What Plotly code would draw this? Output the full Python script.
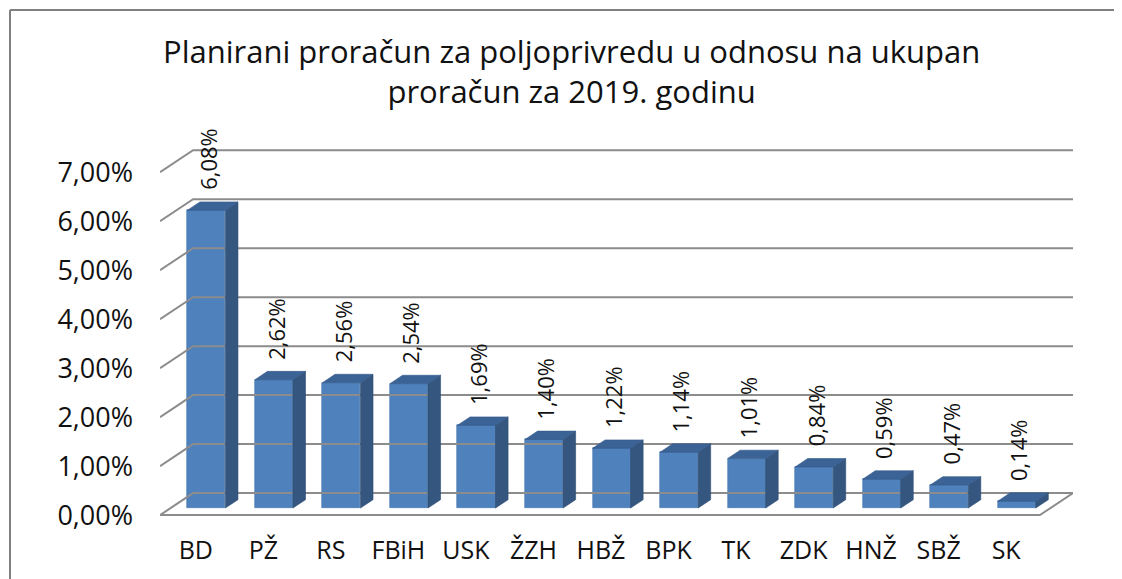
import plotly.graph_objects as go

# ---------------- data ----------------
categories = ["BD", "PŽ", "RS", "FBiH", "USK", "ŽZH", "HBŽ", "BPK", "TK", "ZDK", "HNŽ", "SBŽ", "SK"]
values = [6.08, 2.62, 2.56, 2.54, 1.69, 1.40, 1.22, 1.14, 1.01, 0.84, 0.59, 0.47, 0.14]
y_ticks = [0, 1, 2, 3, 4, 5, 6, 7]
title_text = "Planirani proračun za poljoprivredu u odnosu na ukupan<br>proračun za 2019. godinu"

# ---------------- geometry / style constants ----------------
OFF = 8                       # default page body margin of the html page
W, H = 1122 - OFF, 579 - OFF
ML, MR, MT, MB = 160 - OFF, 49, 138 - OFF, 59
XL, XR = -0.53, 12.5          # front floor edge (category units)
DX, DY = 0.49, 0.45           # full depth offset (x in category units, y in % units)
F0 = 0.32                     # depth position of bar front face
FB = 0.38                     # bar thickness (fraction of depth)
BW = 0.563                    # bar width
GAP = 0.2                     # label gap above bar
Y0, Y1 = -0.1, 7.7

FONT = "Open Sans"
GRID = "#8C8C8C"
C_FRONT = "#4F81BD"
C_SIDE = "#34567F"
C_TOP = "#3C6396"

fig = go.Figure()

# walls / floor lines
gx, gy = [], []
for v in y_ticks:
    gx += [XL, XL + DX, XR + DX, None]
    gy += [v, v + DY, v + DY, None]
gx += [XL, XR, XR + DX, None]
gy += [0, 0, DY, None]
fig.add_trace(go.Scatter(x=gx, y=gy, mode="lines", line=dict(color=GRID, width=2),
                         hoverinfo="skip", showlegend=False, cliponaxis=False))

# bar side and top faces
sx, sy, tx, ty = [], [], [], []
xs = []
for i, v in enumerate(values):
    xc = i + F0 * DX
    xs.append(xc)
    b = F0 * DY
    top = b + v
    xl, xr = xc - BW / 2, xc + BW / 2
    ox, oy = FB * DX, FB * DY
    sx += [xr, xr + ox, xr + ox, xr, xr, None]
    sy += [b, b + oy, top + oy, top, b, None]
    tx += [xl, xr, xr + ox, xl + ox, xl, None]
    ty += [top, top, top + oy, top + oy, top, None]

fig.add_trace(go.Scatter(x=sx, y=sy, mode="lines", fill="toself", fillcolor=C_SIDE,
                         line=dict(color="#2E4D73", width=0.6), hoverinfo="skip",
                         showlegend=False, cliponaxis=False))
fig.add_trace(go.Scatter(x=tx, y=ty, mode="lines", fill="toself", fillcolor=C_TOP,
                         line=dict(color="#34598A", width=0.6), hoverinfo="skip",
                         showlegend=False, cliponaxis=False))

# front faces as real bars
fig.add_trace(go.Bar(x=xs, y=values, base=F0 * DY, width=BW,
                     marker=dict(color=C_FRONT, line=dict(color="#4173AD", width=0.6)),
                     showlegend=False, hoverinfo="skip"))

# data labels
def fmt(v):
    return f"{v:.2f}%".replace(".", ",")

for xc, v in zip(xs, values):
    fig.add_annotation(x=xc + 0.02, y=v + F0 * DY + FB * DY + GAP, text=fmt(v),
                       textangle=-90, showarrow=False, xanchor="center", yanchor="bottom",
                       font=dict(family=FONT, size=22, color="#111111"))

pw = W - ML - MR
ph = H - MT - MB

# chart title
fig.add_annotation(xref="paper", yref="paper", x=(571 - OFF - ML) / pw,
                   y=(H - MB - (28 - OFF)) / ph, xanchor="center", yanchor="top",
                   text=title_text, showarrow=False, align="center",
                   font=dict(family=FONT, size=31, color="#111111"))

# chart frame (top and left edges visible in the reference)
fx0 = (10 - OFF - ML) / pw
fy1 = (H - MB - (10 - OFF)) / ph
fig.add_shape(type="line", xref="paper", yref="paper", x0=fx0, x1=(W + 20 - ML) / pw,
              y0=fy1, y1=fy1, line=dict(color="#808080", width=2), layer="below")
fig.add_shape(type="line", xref="paper", yref="paper", x0=fx0, x1=fx0,
              y0=fy1, y1=(H - MB - (H + 20)) / ph, line=dict(color="#808080", width=2),
              layer="below")

fig.update_layout(
    width=W, height=H,
    margin=dict(l=ML, r=MR, t=MT, b=MB, pad=0),
    paper_bgcolor="white", plot_bgcolor="white",
    bargap=0,
    xaxis=dict(range=[XL, XR + DX], tickvals=list(range(len(categories))), ticktext=categories,
               showgrid=False, zeroline=False, showline=False, ticks="",
               ticklabelstandoff=13, tickfont=dict(family=FONT, size=25, color="#111111"),
               fixedrange=True),
    yaxis=dict(range=[Y0, Y1], tickvals=y_ticks, ticktext=[fmt(v) for v in y_ticks],
               showgrid=False, zeroline=False, showline=False, ticks="",
               ticklabelstandoff=26, tickfont=dict(family=FONT, size=27, color="#111111"),
               fixedrange=True),
    font=dict(family=FONT),
)

fig.write_html("out.html")
